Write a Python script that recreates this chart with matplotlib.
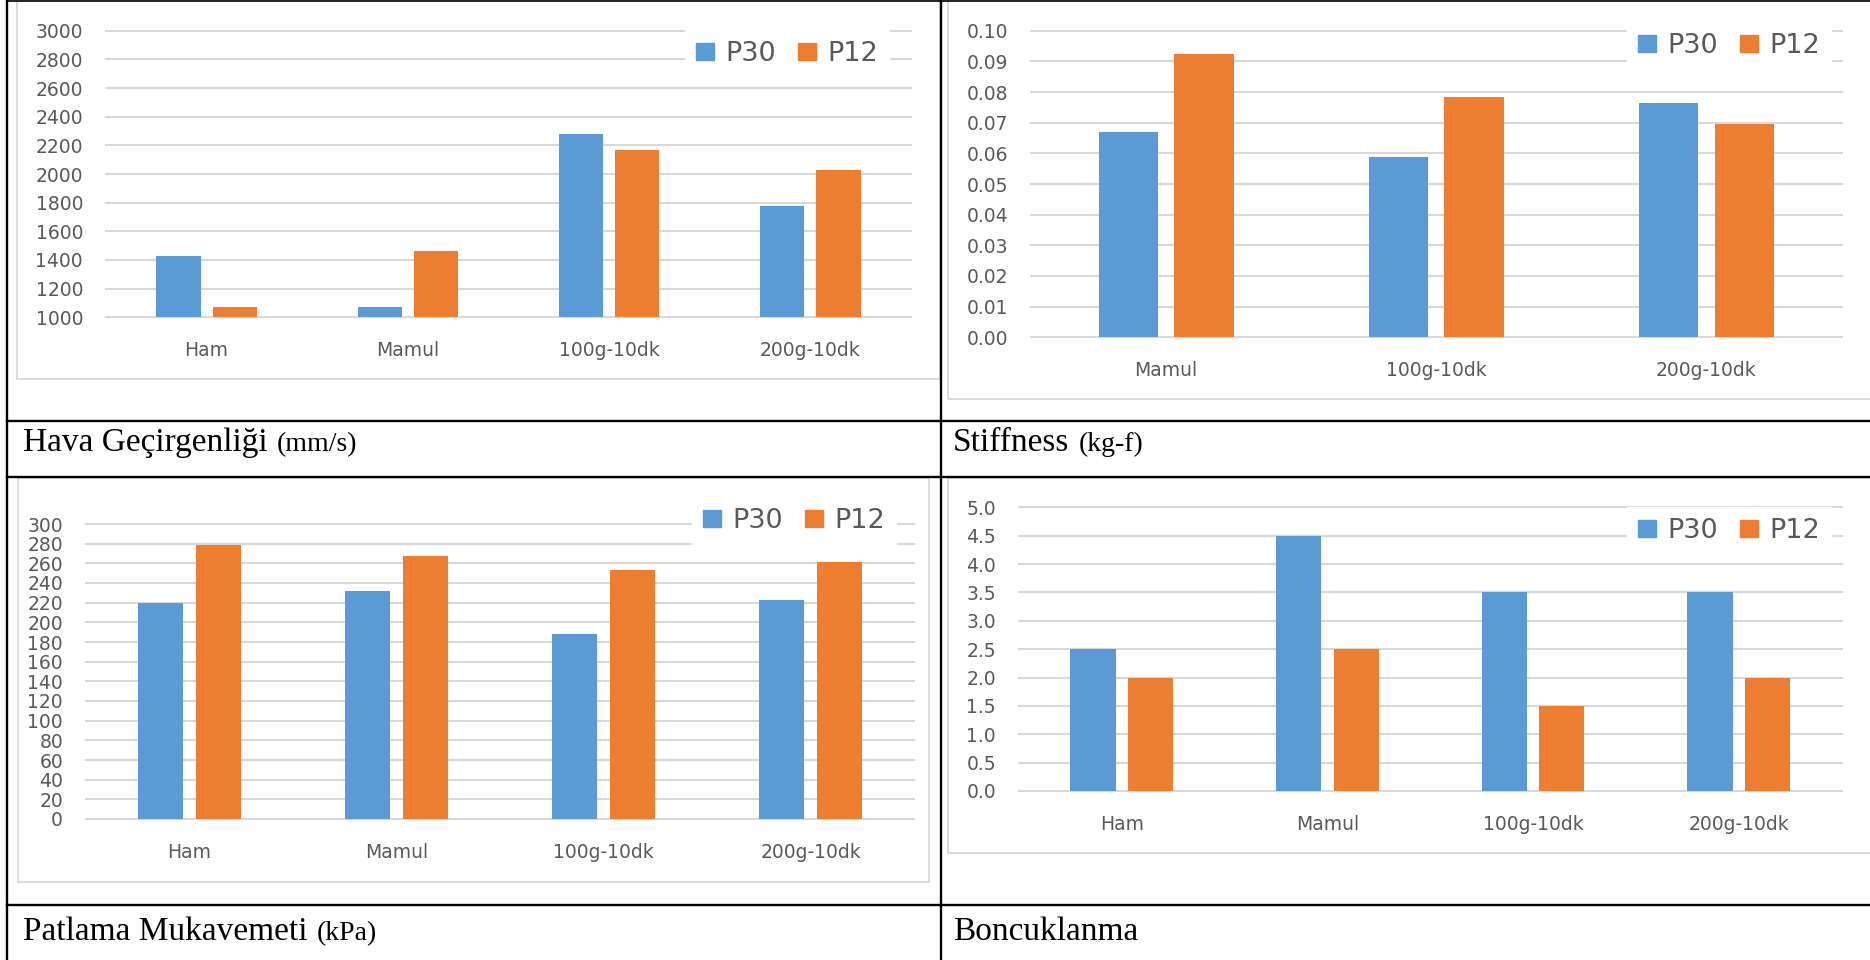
import numpy as np
import matplotlib
matplotlib.use("Agg")
import matplotlib.pyplot as plt
from matplotlib.patches import Patch, Rectangle
from matplotlib.lines import Line2D
from matplotlib.ticker import FormatStrFormatter

W, H = 1870, 960

# data
categories = ["Ham", "Mamul", "100g-10dk", "200g-10dk"]
stiff_categories = ["Mamul", "100g-10dk", "200g-10dk"]
series = ["P30", "P12"]

hava_p30 = [1425, 1070, 2280, 1780]
hava_p12 = [1075, 1465, 2170, 2025]
hava_ticks = [1000, 1200, 1400, 1600, 1800, 2000, 2200, 2400, 2600, 2800, 3000]

stiff_p30 = [0.0670, 0.0588, 0.0764]
stiff_p12 = [0.0923, 0.0783, 0.0695]
stiff_ticks = [0.00, 0.01, 0.02, 0.03, 0.04, 0.05, 0.06, 0.07, 0.08, 0.09, 0.10]

patlama_p30 = [220, 232, 188, 223]
patlama_p12 = [279, 267, 253, 261]
patlama_ticks = [0, 20, 40, 60, 80, 100, 120, 140, 160, 180, 200, 220, 240, 260, 280, 300]

boncuk_p30 = [2.5, 4.5, 3.5, 3.5]
boncuk_p12 = [2.0, 2.5, 1.5, 2.0]
boncuk_ticks = [0.0, 0.5, 1.0, 1.5, 2.0, 2.5, 3.0, 3.5, 4.0, 4.5, 5.0]

blue = "#5B9BD5"
orange = "#ED7D31"
grid_grey = "#D9D9D9"
text_grey = "#595959"

fig = plt.figure(figsize=(W / 100, H / 100), dpi=100)
fig.patch.set_facecolor("white")


# pixel -> figure fraction helpers
def fx(x):
    return x / W


def fy(y):
    return 1 - y / H


def make_axes(x0, x1, y0, y1):
    ax = fig.add_axes([fx(x0), fy(y1), (x1 - x0) / W, (y1 - y0) / H])
    ax.set_facecolor("none")
    return ax


def draw_bars(ax, cats, p30, p12, yticks, fmt, legend_xy):
    x = np.arange(len(cats))
    w = 0.22
    off = 0.14
    ax.bar(x - off, p30, w, color=blue, zorder=3)
    ax.bar(x + off, p12, w, color=orange, zorder=3)
    ax.set_xlim(-0.5, len(cats) - 0.5)
    ax.set_ylim(yticks[0], yticks[-1])
    ax.set_yticks(yticks)
    ax.yaxis.set_major_formatter(FormatStrFormatter(fmt))
    ax.set_xticks(x)
    ax.set_xticklabels(cats)
    ax.tick_params(length=0, labelsize=13.5, labelcolor=text_grey)
    ax.tick_params(axis="x", pad=17)
    ax.tick_params(axis="y", pad=16.5)
    ax.yaxis.grid(True, color=grid_grey, lw=1.5)
    ax.set_axisbelow(True)
    for gl in ax.get_ygridlines():
        gl.set_clip_on(False)
    for s in ax.spines.values():
        s.set_visible(False)

    # legend sits on a white box that hides the top gridlines
    handles = [Patch(color=blue), Patch(color=orange)]
    leg = ax.legend(handles, series, ncol=2, loc="center left",
                    bbox_to_anchor=(fx(legend_xy[0]), fy(legend_xy[1])),
                    bbox_transform=fig.transFigure, borderaxespad=0,
                    borderpad=0.4, handlelength=0.67, handleheight=0.6,
                    handletextpad=0.42, columnspacing=0.8, fontsize=19.5,
                    frameon=True, fancybox=False, facecolor="white",
                    edgecolor="white", framealpha=1)
    for t in leg.get_texts():
        t.set_color(text_grey)


# light grey chart-area frames (they run under the table lines)
for (x0, x1, y0, y1) in [(17, 940, 0, 379), (948, 1880, 0, 399),
                         (18, 929, 478, 882), (948, 1880, 478, 853)]:
    fig.add_artist(Rectangle((fx(x0), fy(y1)), (x1 - x0) / W, (y1 - y0) / H,
                             transform=fig.transFigure, fill=False,
                             ec=grid_grey, lw=1.3, zorder=-1))

ax1 = make_axes(106, 911, 30.7, 317.3)
draw_bars(ax1, categories, hava_p30, hava_p12, hava_ticks, "%d", (685, 54))

ax2 = make_axes(1031, 1841.5, 30.7, 337.3)
draw_bars(ax2, stiff_categories, stiff_p30, stiff_p12, stiff_ticks, "%.2f", (1627, 46))

ax3 = make_axes(86, 914, 524, 819)
draw_bars(ax3, categories, patlama_p30, patlama_p12, patlama_ticks, "%d", (692, 521))

ax4 = make_axes(1019, 1841.5, 507.3, 791)
draw_bars(ax4, categories, boncuk_p30, boncuk_p12, boncuk_ticks, "%.1f", (1627, 531))


# black table lines
def line(xs, ys, lw=1.7):
    fig.add_artist(Line2D([fx(v) for v in xs], [fy(v) for v in ys],
                          transform=fig.transFigure, color="black", lw=lw, zorder=5))


line([7, 7], [0, 960])
line([940.5, 940.5], [0, 960])
line([7, W], [1, 1], lw=1.2)
line([7, W], [421, 421])
line([7, W], [477, 477])
line([7, W], [904.5, 904.5])

# captions: name in Times-like serif, unit a bit smaller
captions = [(23, 451, "Hava Geçirgenliği", "(mm/s)"),
            (953, 451, "Stiffness", "(kg-f)"),
            (23, 940, "Patlama Mukavemeti", "(kPa)"),
            (953, 940, "Boncuklanma", "")]

renderer = fig.canvas.get_renderer()
for (x, y, name, unit) in captions:
    t = fig.text(fx(x), fy(y), name, family="Liberation Serif", size=24,
                 va="baseline", color="black")
    if unit:
        bb = t.get_window_extent(renderer)
        fig.text(fx(bb.x1 + 9), fy(y), unit, family="Liberation Serif",
                 size=20, va="baseline", color="black")

fig.savefig("out.png", dpi=100)
